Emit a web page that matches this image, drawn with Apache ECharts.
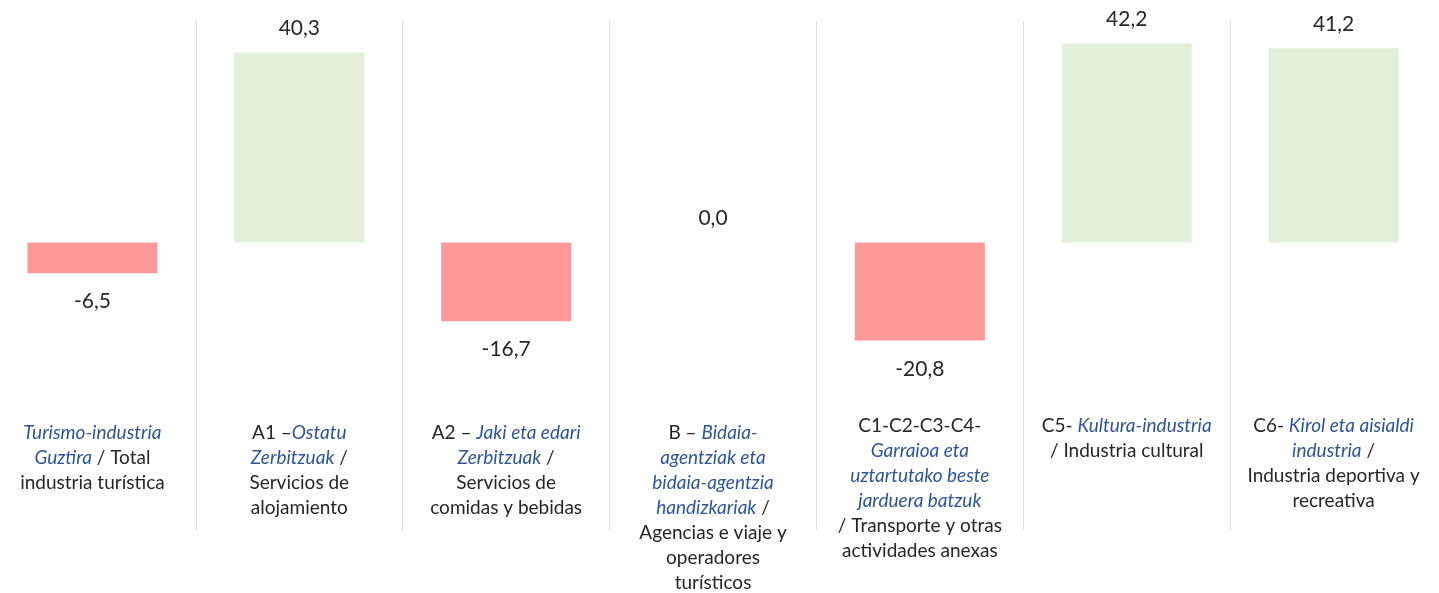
<!DOCTYPE html>
<html>
<head>
<meta charset="utf-8">
<script src="https://cdn.jsdelivr.net/npm/echarts@6/dist/echarts.min.js"></script>
<style>
  html, body { margin: 0; padding: 0; background: #fff; overflow: hidden; }
  /* 图表向左偏移，使第一列从画面外开始 */
  #chart { width: 1450px; height: 593px; margin-left: -11px; }
</style>
</head>
<body>
<div id="chart"></div>
<script>
// 数据
const categories = ["total", "a1", "a2", "b", "c14", "c5", "c6"];
const values = [-6.5, 40.3, -16.7, 0.0, -20.8, 42.2, 41.2];

// 类目标签：每行由 [样式, 文字] 片段组成，i = 斜体蓝色，n = 普通
const labelLines = {
  total: [[["i", "Turismo-industria"]], [["i", "Guztira"], ["n", " / Total"]], [["n", "industria turística"]]],
  a1: [[["n", "A1 –"], ["i", "Ostatu"]], [["i", "Zerbitzuak"], ["n", " /"]], [["n", "Servicios de"]], [["n", "alojamiento"]]],
  a2: [[["n", "A2 – "], ["i", "Jaki eta edari"]], [["i", "Zerbitzuak"], ["n", " /"]], [["n", "Servicios de"]], [["n", "comidas y bebidas"]]],
  b: [[["n", "B – "], ["i", "Bidaia-"]], [["i", "agentziak eta"]], [["i", "bidaia-agentzia"]], [["i", "handizkariak"], ["n", " /"]],
      [["n", "Agencias e viaje y"]], [["n", "operadores"]], [["n", "turísticos"]]],
  c14: [[["n", "C1-C2-C3-C4-"]], [["i", "Garraioa eta"]], [["i", "uztartutako beste"]], [["i", "jarduera batzuk"]],
        [["n", "/ Transporte y otras"]], [["n", "actividades anexas"]]],
  c5: [[["n", "C5- "], ["i", "Kultura-industria"]], [["n", "/ Industria cultural"]]],
  c6: [[["n", "C6- "], ["i", "Kirol eta aisialdi"]], [["i", "industria"], ["n", " /"]], [["n", "Industria deportiva y"]], [["n", "recreativa"]]]
};
// 前四列标签比 C 列略低
const lowered = ["total", "a1", "a2", "b"];

const FONT = "Lato, 'Open Sans', sans-serif";

function fmt(v) {
  return v.toFixed(1).replace(".", ",");
}

function buildLabel(key) {
  const text = labelLines[key].map(line =>
    line.map(([s, t]) => "{" + s + "|" + t + "}").join("")
  ).join("\n");
  return lowered.includes(key) ? "{sp| }\n" + text : text;
}

const chart = echarts.init(document.getElementById("chart"));

const option = {
  animation: false,
  grid: { left: 0, right: 2, top: 21, bottom: 63 },
  xAxis: {
    type: "category",
    data: categories,
    axisLine: { show: false },
    axisTick: { show: false },
    splitLine: {
      show: true,
      showMinLine: false,
      showMaxLine: false,
      lineStyle: { color: "#d9dde8", width: 1 }
    },
    axisLabel: {
      interval: 0,
      margin: -117,
      verticalAlign: "top",
      align: "center",
      formatter: v => buildLabel(v),
      rich: {
        sp: { fontSize: 4, lineHeight: 7 },
        i: { fontFamily: FONT, fontSize: 19, fontStyle: "italic", color: "#2f5597", lineHeight: 25 },
        n: { fontFamily: FONT, fontSize: 19, color: "#262626", lineHeight: 25 }
      }
    }
  },
  yAxis: {
    type: "value",
    min: -61,
    max: 47,
    show: false,
    splitLine: { show: false }
  },
  series: [
    {
      type: "bar",
      barWidth: 130,
      data: values.map(v => ({
        value: v,
        itemStyle: { color: v < 0 ? "#ff9999" : "#e2efda" },
        label: { position: v < 0 ? "bottom" : "top", distance: v < 0 ? 18 : 14 }
      })),
      label: {
        show: true,
        fontFamily: FONT,
        fontSize: 21,
        color: "#262626",
        formatter: p => fmt(p.value)
      }
    }
  ]
};

chart.setOption(option);
</script>
</body>
</html>
